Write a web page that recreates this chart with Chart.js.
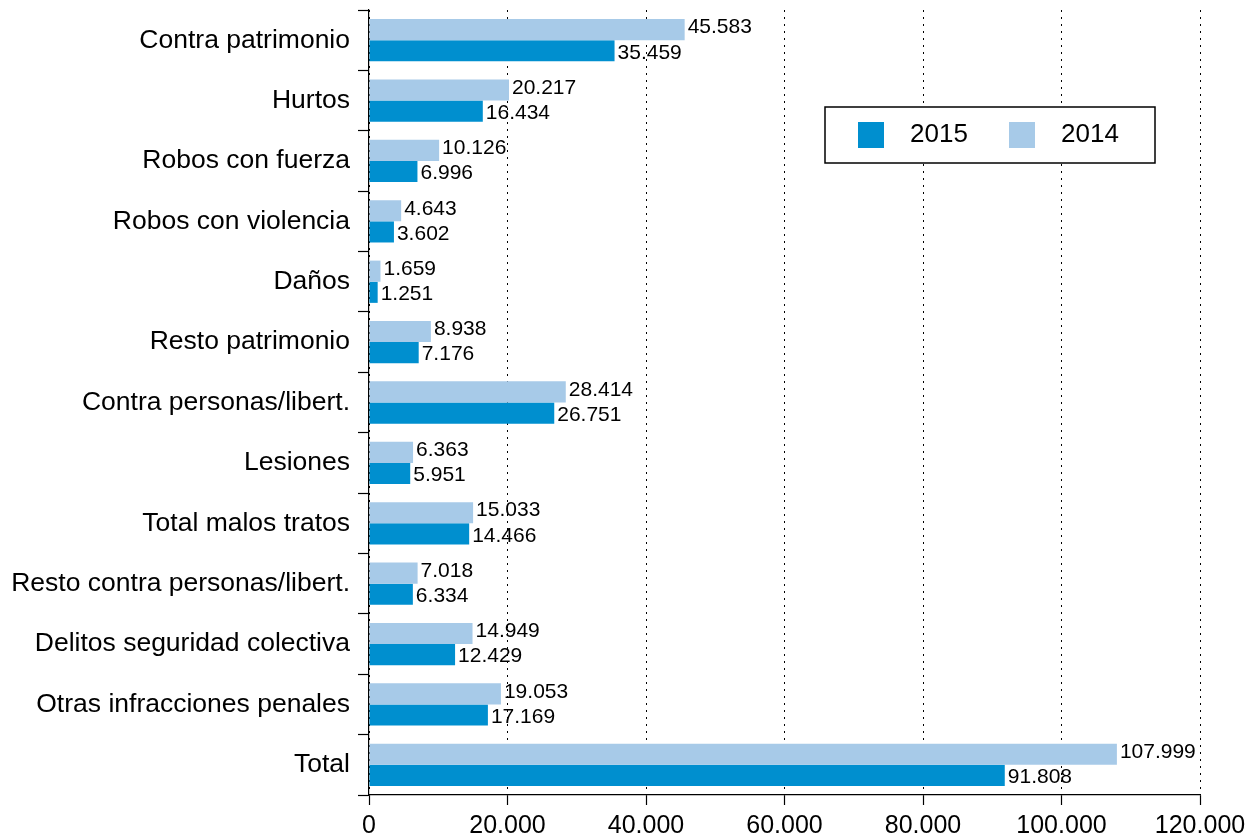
<!DOCTYPE html>
<html>
<head>
<meta charset="utf-8">
<script src="https://cdn.jsdelivr.net/npm/chart.js@4"></script>
<style>
  body { margin: 0; background: #fff; }
  #wrap { width: 1260px; height: 839px; }
</style>
</head>
<body>
<div id="wrap"><canvas id="myChart"></canvas></div>
<script>
"use strict";

// Data
const categories = [
    "Contra patrimonio",
    "Hurtos",
    "Robos con fuerza",
    "Robos con violencia",
    "Daños",
    "Resto patrimonio",
    "Contra personas/libert.",
    "Lesiones",
    "Total malos tratos",
    "Resto contra personas/libert.",
    "Delitos seguridad colectiva",
    "Otras infracciones penales",
    "Total",
];
const values2014 = [45583, 20217, 10126, 4643, 1659, 8938, 28414, 6363, 15033, 7018, 14949, 19053, 107999];
const values2015 = [35459, 16434, 6996, 3602, 1251, 7176, 26751, 5951, 14466, 6334, 12429, 17169, 91808];
const xTicks = [0, 20000, 40000, 60000, 80000, 100000, 120000];

const FONT = '"Liberation Sans", Arial, Helvetica, sans-serif';
const DARK = "#008fcf";
const LIGHT = "#a7cae8";

function fmt(v) {
    return String(v).replace(/\B(?=(\d{3})+(?!\d))/g, ".");
}

// value labels at the end of each bar
const valueLabels = {
    id: "valueLabels",
    afterDatasetsDraw(chart) {
        const ctx = chart.ctx;
        ctx.save();
        ctx.font = "21px " + FONT;
        ctx.fillStyle = "#000";
        ctx.textAlign = "left";
        ctx.textBaseline = "middle";
        chart.data.datasets.forEach((ds, i) => {
            const meta = chart.getDatasetMeta(i);
            const dy = i === 0 ? -2 : 2;
            meta.data.forEach((bar, j) => {
                ctx.fillText(fmt(ds.data[j]), bar.x + 3, bar.y + dy);
            });
        });
        ctx.restore();
    },
};

// boxed legend inside the plot
const boxLegend = {
    id: "boxLegend",
    afterDraw(chart) {
        const ctx = chart.ctx;
        const items = [
            { label: "2015", color: DARK },
            { label: "2014", color: LIGHT },
        ];
        const x0 = 825, y0 = 107, w = 330, h = 56;
        ctx.save();
        ctx.fillStyle = "#fff";
        ctx.fillRect(x0, y0, w, h);
        ctx.strokeStyle = "#000";
        ctx.lineWidth = 1.5;
        ctx.strokeRect(x0, y0, w, h);
        ctx.font = "26px " + FONT;
        ctx.textBaseline = "middle";
        ctx.textAlign = "left";
        items.forEach((it, k) => {
            const bx = x0 + 33 + k * 151;
            ctx.fillStyle = it.color;
            ctx.fillRect(bx, y0 + 15, 26, 26);
            ctx.fillStyle = "#000";
            ctx.fillText(it.label, bx + 52, y0 + 28);
        });
        ctx.restore();
    },
};

const data = {
    labels: categories,
    datasets: [
        {
            label: "2014",
            data: values2014,
            backgroundColor: LIGHT,
            categoryPercentage: 0.7,
            barPercentage: 1.0,
        },
        {
            label: "2015",
            data: values2015,
            backgroundColor: DARK,
            categoryPercentage: 0.7,
            barPercentage: 1.0,
        },
    ],
};

const config = {
    type: "bar",
    data: data,
    options: {
        indexAxis: "y",
        responsive: true,
        maintainAspectRatio: false,
        animation: false,
        layout: {
            padding: { top: 10, right: 60, left: 0, bottom: 0 },
        },
        plugins: {
            legend: { display: false },
            tooltip: { enabled: false },
        },
        scales: {
            x: {
                type: "linear",
                min: 0,
                max: 120000,
                afterBuildTicks(scale) {
                    scale.ticks = xTicks.map((v) => ({ value: v }));
                },
                afterFit(scale) {
                    scale.height = 44;
                    scale.paddingLeft = 0;
                },
                ticks: {
                    color: "#000",
                    font: { family: FONT, size: 25 },
                    padding: 6,
                    maxRotation: 0,
                    callback: (v) => fmt(v),
                },
                grid: {
                    color: "#000",
                    lineWidth: 1,
                    tickLength: 10,
                    tickColor: "#000",
                    tickWidth: 1.2,
                },
                border: {
                    display: true,
                    color: "#000",
                    width: 1.2,
                    dash: [2, 5],
                },
            },
            y: {
                afterFit(scale) {
                    scale.width = 369;
                    scale.paddingTop = 0;
                    scale.paddingBottom = 0;
                },
                ticks: {
                    color: "#000",
                    font: { family: FONT, size: 26.5 },
                    padding: 8,
                },
                grid: {
                    offset: true,
                    drawOnChartArea: false,
                    tickLength: 11,
                    tickColor: "#000",
                    tickWidth: 1.2,
                },
                border: {
                    display: true,
                    color: "#000",
                    width: 1.2,
                },
            },
        },
    },
    plugins: [valueLabels, boxLegend],
};

const myChart = new Chart(document.getElementById("myChart"), config);
</script>
</body>
</html>
